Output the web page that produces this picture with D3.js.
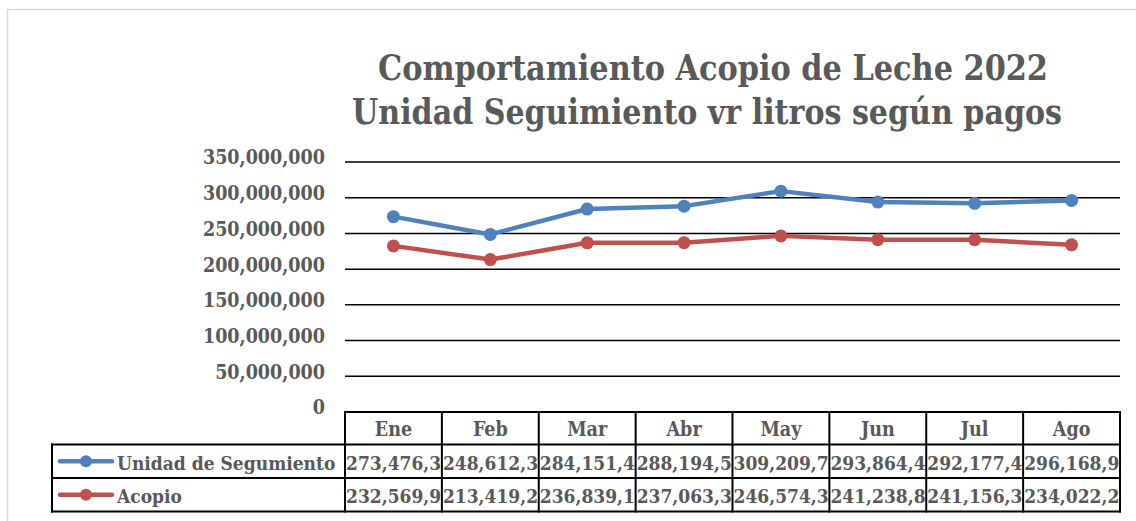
<!DOCTYPE html>
<html><head><meta charset="utf-8">
<script src="https://cdn.jsdelivr.net/npm/d3@7"></script>
<style>
html,body{margin:0;padding:0;background:#fff;}
svg{display:block;}
text{font-family:'DejaVu Serif Condensed','DejaVu Serif',serif;font-stretch:condensed;font-weight:bold;fill:#595959;}
</style></head>
<body>
<svg id="chart" width="1136" height="521"></svg>
<script>
const categories = ["Ene","Feb","Mar","Abr","May","Jun","Jul","Ago"];
const seriesNames = ["Unidad de Segumiento","Acopio"];
const unidadValues = [273476350,248612350,284151450,288194550,309209750,293864450,292177450,296168950];
const acopioValues = [232569950,213419250,236839150,237063350,246574350,241238850,241156350,234022250];
const yTicks = [0,50000000,100000000,150000000,200000000,250000000,300000000,350000000];
const titleLines = ["Comportamiento Acopio de Leche 2022","Unidad Seguimiento vr litros según pagos"];
const colors = ["#4F81BD","#C0504D"];

const svg = d3.select("#chart");
svg.append("rect").attr("x",7.5).attr("y",9.5).attr("width",1140).attr("height",520)
  .attr("fill","none").attr("stroke","#d9d9d9").attr("stroke-width",1.5);

const x0 = 345, x1 = 1120, yTop = 162, yBot = 412;
const x = d3.scaleBand().domain(categories).range([x0,x1]);
const y = d3.scaleLinear().domain([0,350000000]).range([yBot,yTop]);

// title
const titleW = [670,710];
svg.append("g").selectAll("text").data(titleLines).join("text")
  .attr("x",(d,i)=>i===0?378:352).attr("y",(d,i)=>80+i*44)
  .attr("textLength",(d,i)=>titleW[i]).attr("lengthAdjust","spacingAndGlyphs")
  .style("font-size","36px").text(d=>d);

// gridlines
svg.append("g").selectAll("line").data(yTicks.filter(t=>t>0)).join("line")
  .attr("x1",x0).attr("x2",x1).attr("y1",d=>y(d)).attr("y2",d=>y(d))
  .attr("stroke","#000").attr("stroke-width",1.5);

// y axis labels
const fmt = d3.format(",");
const yAxis = d3.axisLeft(y).tickValues(yTicks).tickFormat(fmt).tickSize(0).tickPadding(0);
const ya = svg.append("g").attr("transform",`translate(325,0)`).call(yAxis);
ya.select(".domain").remove();
ya.selectAll("text").style("font-size","19.5px").attr("fill","#595959").attr("dy","0.1em")
  .style("font-family","'DejaVu Serif Condensed','DejaVu Serif',serif").style("font-weight","bold");

// lines
const allSeries = [unidadValues, acopioValues];
const line = d3.line().x((d,i)=>x(categories[i])+x.bandwidth()/2).y(d=>y(d));
allSeries.forEach((vals,si)=>{
  svg.append("path").datum(vals).attr("d",line).attr("fill","none")
    .attr("stroke",colors[si]).attr("stroke-width",4.5).attr("stroke-linejoin","round");
  svg.append("g").selectAll("circle").data(vals).join("circle")
    .attr("cx",(d,i)=>x(categories[i])+x.bandwidth()/2).attr("cy",d=>y(d)).attr("r",6.5)
    .attr("fill",colors[si]);
});

// data table
const rowH = [412,444.5,478,511.5];
const legX = 52;
const tbl = svg.append("g");
tbl.selectAll("text.h").data(categories).join("text").attr("class","h")
  .attr("x",d=>x(d)+x.bandwidth()/2).attr("y",436).attr("text-anchor","middle")
  .style("font-size","19.5px").text(d=>d);
allSeries.forEach((vals,si)=>{
  vals.forEach((v,i)=>{
    const cx = x(categories[i]);
    const t = tbl.append("text").attr("x",cx+1).attr("y",rowH[si+1]+25)
      .style("font-size","19px").text(fmt(v));
    let s = fmt(v);
    while (s.length>1 && t.node().getComputedTextLength() > x.bandwidth()-0.5) {
      s = s.slice(0,-1); t.text(s);
    }
  });
  const ly = (rowH[si+1]+rowH[si+2])/2;
  tbl.append("line").attr("x1",60).attr("x2",112).attr("y1",ly).attr("y2",ly)
    .attr("stroke",colors[si]).attr("stroke-width",4.5).attr("stroke-linecap","round");
  tbl.append("circle").attr("cx",86).attr("cy",ly).attr("r",6).attr("fill",colors[si]);
  tbl.append("text").attr("x",117).attr("y",rowH[si+1]+25).style("font-size","19px").text(seriesNames[si]);
});
function ln(a,b,c,d){ tbl.append("line").attr("x1",a).attr("y1",b).attr("x2",c).attr("y2",d).attr("stroke","#000").attr("stroke-width",2).attr("stroke-linecap","square"); }
ln(x0,rowH[0],x1,rowH[0]);
ln(legX,rowH[1],x1,rowH[1]);
ln(legX,rowH[2],x1,rowH[2]);
ln(legX,rowH[3],x1,rowH[3]);
ln(legX,rowH[1],legX,rowH[3]);
categories.forEach(c=>ln(x(c),rowH[0],x(c),rowH[3]));
ln(x1,rowH[0],x1,rowH[3]);
</script>
</body></html>
